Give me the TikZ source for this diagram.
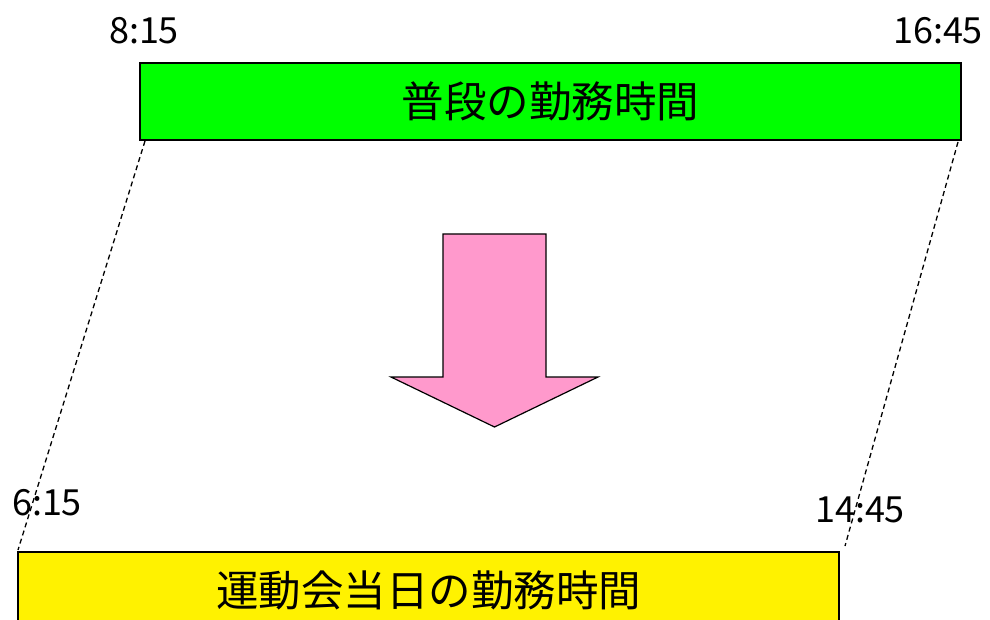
\documentclass[tikz,border=0pt]{standalone}
\usepackage{fontspec}
\setmainfont{Noto Sans CJK JP}
\begin{document}
\begin{tikzpicture}[x=1pt,y=-1pt]
			\tikzstyle{bande}=[draw=black,line width=1.5pt,inner sep=0pt,minimum width=821pt,minimum height=77pt,font=\fontsize{42.5}{42.5}\selectfont]
			\tikzstyle{heure}=[inner sep=0pt,font=\fontsize{36}{36}\selectfont]
			\tikzstyle{pointille}=[line width=1.3pt,dash pattern=on 5pt off 3.5pt]
			\tikzstyle{fleche}=[draw=black,line width=1.2pt,fill=rosefleche,line join=miter]
			\definecolor{rosefleche}{RGB}{255,153,204}
			\def\LargeurTige{51.5}\def\Aile{52}\def\Pointe{50}
			\useasboundingbox (0,0) rectangle (990,620);
			\node[bande,fill=green] (Normal) at (550.5,101.5) {普段の勤務時間};
			\node[bande,fill=yellow] (Jour) at (428.5,590.5) {運動会当日の勤務時間};
			\node[heure] (Na) at (144,31) {8:15};
			\node[heure] (Nb) at (938,31) {16:45};
			\node[heure] (Ja) at (47,503) {6:15};
			\node[heure] (Jb) at (860,510) {14:45};
			\coordinate (Ra) at (145,141) ; \coordinate (Rb) at (18,550) ;
			\coordinate (Sa) at (958,142) ; \coordinate (Sb) at (845,546) ;
			\draw[pointille] (Ra)--(Rb) ; \draw[pointille] (Sa)--(Sb) ;
			\coordinate (F) at (443,234) ;
			\draw[fleche] (F) -- ++(2*\LargeurTige,0) -- ++(0,143) -- ++(\Aile,0)
				-- ++(-\Aile-\LargeurTige,\Pointe) -- ++(-\Aile-\LargeurTige,-\Pointe) -- ++(\Aile,0) -- cycle ;
\end{tikzpicture}
\end{document}
